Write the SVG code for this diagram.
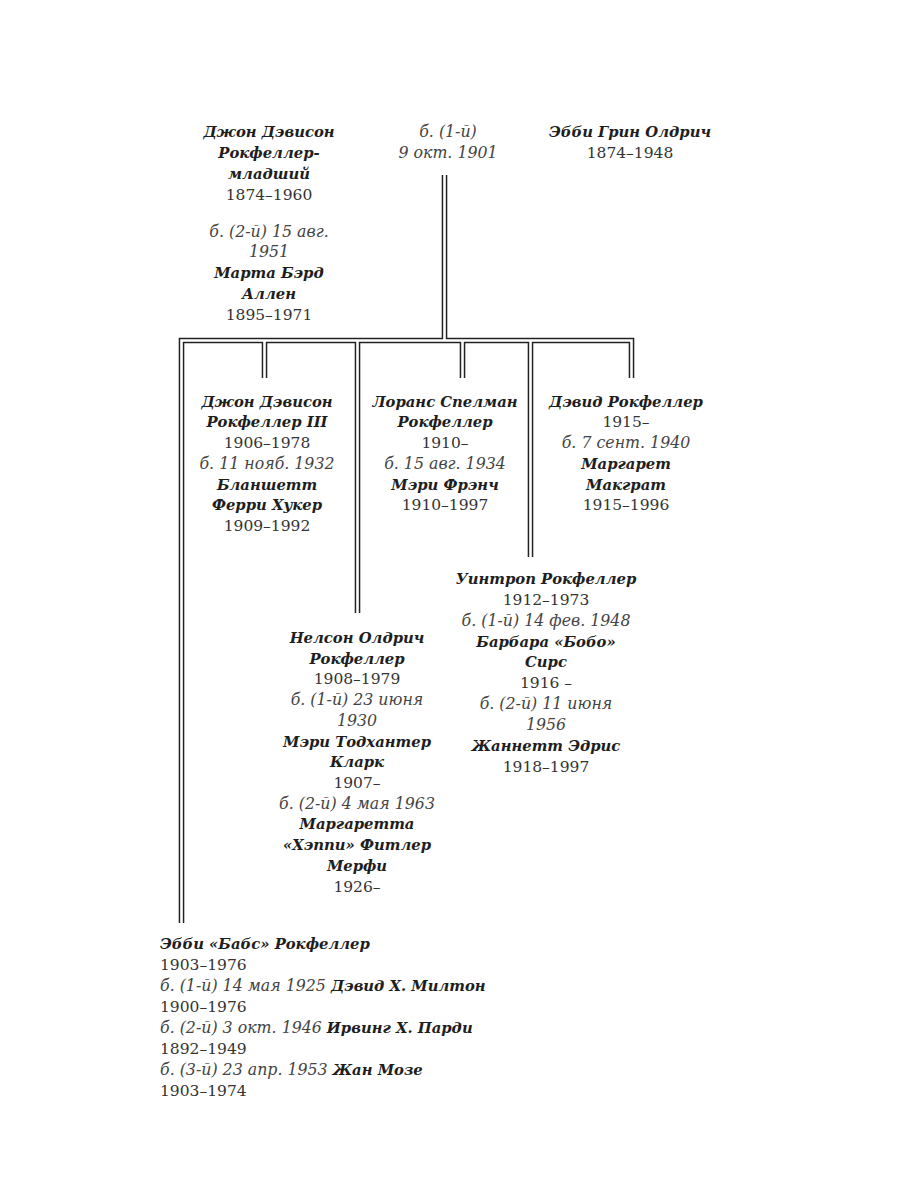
<svg xmlns="http://www.w3.org/2000/svg" width="900" height="1200" viewBox="0 0 900 1200">
<style>
text{font-family:"DejaVu Serif","Liberation Serif",serif;font-size:15.5px;fill:#2a2a2a}
.c{text-anchor:middle}
.b{font-weight:bold;font-style:italic;font-size:14.8px;fill:#1e1e1e}
.i{font-style:italic;font-size:15.8px;fill:#444}
.r{fill:#333}
.lk{fill:none;stroke-linecap:butt;stroke-linejoin:miter}
.o{stroke:#222;stroke-width:5.6}
.w{stroke:#fff;stroke-width:2.6}
</style>
<rect width="900" height="1200" fill="#fff"/>
<g id="connectors">
<g class="lk o">
<path d="M181.5,923 V340.5 H631.5 V378"/>
<path d="M444.5,175 V340.5"/>
<path d="M264.5,340.5 V378"/>
<path d="M357.5,340.5 V613"/>
<path d="M462.5,340.5 V378"/>
<path d="M530.5,340.5 V557"/>
</g>
<g class="lk w">
<path d="M181.5,923 V340.5 H631.5 V378"/>
<path d="M444.5,175 V340.5"/>
<path d="M264.5,340.5 V378"/>
<path d="M357.5,340.5 V613"/>
<path d="M462.5,340.5 V378"/>
<path d="M530.5,340.5 V557"/>
</g>
</g>
<g id="john-jr" class="c">
<text x="269" y="137" class="b">Джон Дэвисон</text>
<text x="269" y="158" class="b">Рокфеллер-</text>
<text x="269" y="179" class="b">младший</text>
<text x="269" y="200" class="r">1874–1960</text>
</g>
<g id="martha" class="c">
<text x="269" y="237" class="i">б. (2-й) 15 авг.</text>
<text x="269" y="257" class="i">1951</text>
<text x="269" y="278" class="b">Марта Бэрд</text>
<text x="269" y="299" class="b">Аллен</text>
<text x="269" y="320" class="r">1895–1971</text>
</g>
<g id="marriage1" class="c">
<text x="448" y="137" class="i">б. (1-й)</text>
<text x="448" y="158" class="i">9 окт. 1901</text>
</g>
<g id="abby-aldrich" class="c">
<text x="630" y="137" class="b">Эбби Грин Олдрич</text>
<text x="630" y="158" class="r">1874–1948</text>
</g>
<g id="john-iii" class="c">
<text x="267" y="407" class="b">Джон Дэвисон</text>
<text x="267" y="427" class="b">Рокфеллер III</text>
<text x="267" y="448" class="r">1906–1978</text>
<text x="267" y="469" class="i">б. 11 нояб. 1932</text>
<text x="267" y="490" class="b">Бланшетт</text>
<text x="267" y="510" class="b">Ферри Хукер</text>
<text x="267" y="531" class="r">1909–1992</text>
</g>
<g id="laurance" class="c">
<text x="445" y="407" class="b">Лоранс Спелман</text>
<text x="445" y="427" class="b">Рокфеллер</text>
<text x="445" y="448" class="r">1910–</text>
<text x="445" y="469" class="i">б. 15 авг. 1934</text>
<text x="445" y="490" class="b">Мэри Фрэнч</text>
<text x="445" y="510" class="r">1910–1997</text>
</g>
<g id="david" class="c">
<text x="626" y="407" class="b">Дэвид Рокфеллер</text>
<text x="626" y="427" class="r">1915–</text>
<text x="626" y="448" class="i">б. 7 сент. 1940</text>
<text x="626" y="469" class="b">Маргарет</text>
<text x="626" y="490" class="b">Макграт</text>
<text x="626" y="510" class="r">1915–1996</text>
</g>
<g id="winthrop" class="c">
<text x="546" y="584" class="b">Уинтроп Рокфеллер</text>
<text x="546" y="605" class="r">1912–1973</text>
<text x="546" y="626" class="i">б. (1-й) 14 фев. 1948</text>
<text x="546" y="647" class="b">Барбара «Бобо»</text>
<text x="546" y="667" class="b">Сирс</text>
<text x="546" y="688" class="r">1916 –</text>
<text x="546" y="709" class="i">б. (2-й) 11 июня</text>
<text x="546" y="730" class="i">1956</text>
<text x="546" y="751" class="b">Жаннетт Эдрис</text>
<text x="546" y="772" class="r">1918–1997</text>
</g>
<g id="nelson" class="c">
<text x="357" y="643" class="b">Нелсон Олдрич</text>
<text x="357" y="664" class="b">Рокфеллер</text>
<text x="357" y="684" class="r">1908–1979</text>
<text x="357" y="705" class="i">б. (1-й) 23 июня</text>
<text x="357" y="726" class="i">1930</text>
<text x="357" y="747" class="b">Мэри Тодхантер</text>
<text x="357" y="767" class="b">Кларк</text>
<text x="357" y="788" class="r">1907–</text>
<text x="357" y="809" class="i">б. (2-й) 4 мая 1963</text>
<text x="357" y="829" class="b">Маргаретта</text>
<text x="357" y="850" class="b">«Хэппи» Фитлер</text>
<text x="357" y="871" class="b">Мерфи</text>
<text x="357" y="892" class="r">1926–</text>
</g>
<g id="abby-babs">
<text x="160" y="949" class="b">Эбби «Бабс» Рокфеллер</text>
<text x="160" y="970" class="r">1903–1976</text>
<text x="160" y="991"><tspan class="i">б. (1-й) 14 мая 1925 </tspan><tspan class="b">Дэвид Х. Милтон</tspan></text>
<text x="160" y="1012" class="r">1900–1976</text>
<text x="160" y="1033"><tspan class="i">б. (2-й) 3 окт. 1946 </tspan><tspan class="b">Ирвинг Х. Парди</tspan></text>
<text x="160" y="1054" class="r">1892–1949</text>
<text x="160" y="1075"><tspan class="i">б. (3-й) 23 апр. 1953 </tspan><tspan class="b">Жан Мозе</tspan></text>
<text x="160" y="1096" class="r">1903–1974</text>
</g>
</svg>
